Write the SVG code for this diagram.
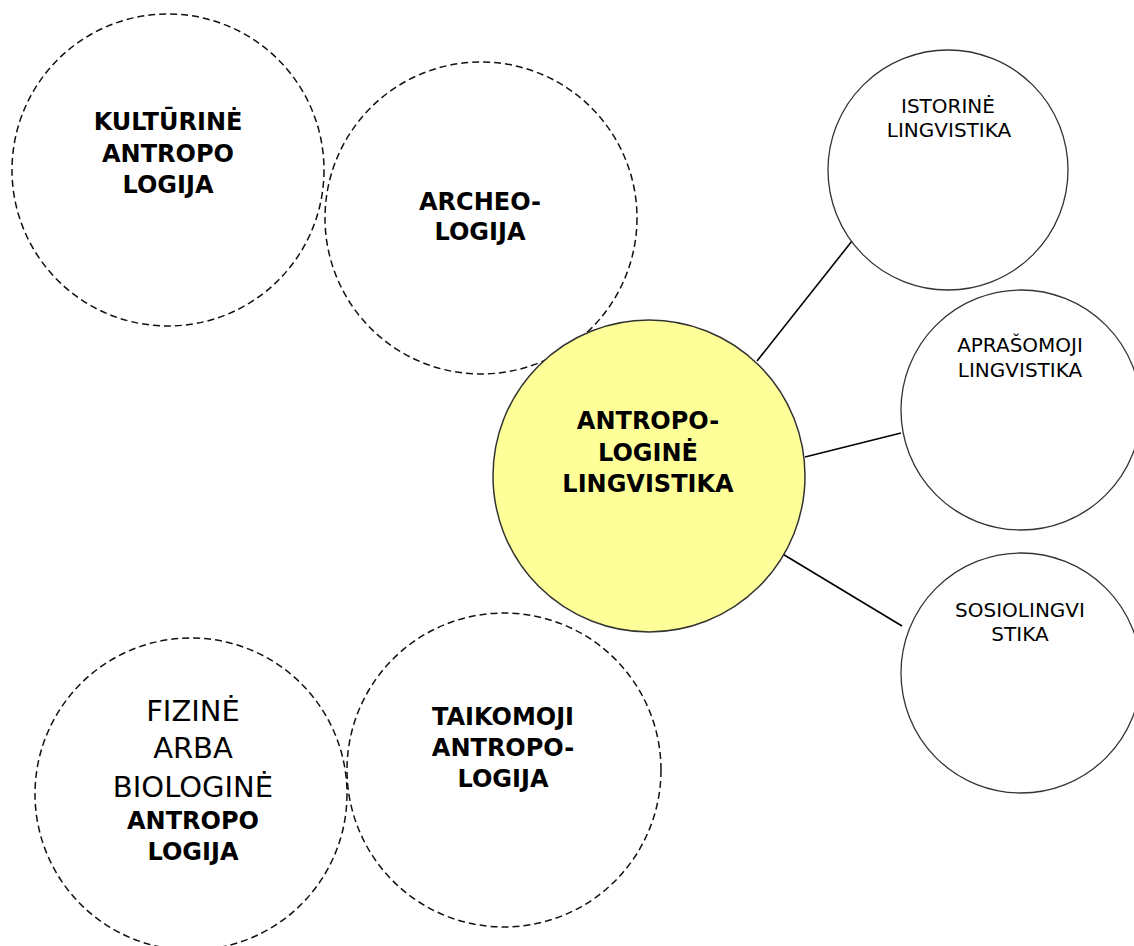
<svg xmlns="http://www.w3.org/2000/svg" width="1134" height="946" viewBox="0 0 1134 946">
<style>
.dash{fill:none;stroke:#111;stroke-width:1.5;stroke-dasharray:7 4}
.solid{fill:#fff;stroke:#333;stroke-width:1.3}
.main{fill:#ffff99;stroke:#333;stroke-width:1.5}
.b{font-family:"DejaVu Sans",sans-serif;font-weight:bold;font-size:24px;text-anchor:middle;fill:#000}
.r{font-family:"DejaVu Sans",sans-serif;font-size:20px;text-anchor:middle;fill:#000}
.rl{font-family:"DejaVu Sans",sans-serif;font-size:29px;text-anchor:middle;fill:#000}
.line{stroke:#000;stroke-width:1.6;fill:none}
</style>
<rect width="1134" height="946" fill="#fff"/>
<g id="connectors">
<line class="line" x1="757" y1="361" x2="852" y2="241"/>
<line class="line" x1="805" y1="457" x2="901" y2="433"/>
<line class="line" x1="781" y1="553" x2="902" y2="626"/>
</g>
<g id="kulturine">
<circle class="dash" cx="168" cy="170" r="156"/>
<text class="b" x="168" y="130">KULTŪRINĖ</text>
<text class="b" x="168" y="162">ANTROPO</text>
<text class="b" x="168" y="193">LOGIJA</text>
</g>
<g id="archeologija">
<circle class="dash" cx="481" cy="218" r="156"/>
<text class="b" x="480" y="210">ARCHEO-</text>
<text class="b" x="480" y="240">LOGIJA</text>
</g>
<g id="fizine">
<circle class="dash" cx="191" cy="794" r="156"/>
<text class="rl" x="193" y="721">FIZINĖ</text>
<text class="rl" x="193" y="758">ARBA</text>
<text class="rl" x="193" y="797">BIOLOGINĖ</text>
<text class="b" x="193" y="829">ANTROPO</text>
<text class="b" x="193" y="860">LOGIJA</text>
</g>
<g id="taikomoji">
<circle class="dash" cx="504" cy="770" r="157"/>
<text class="b" x="503" y="725">TAIKOMOJI</text>
<text class="b" x="503" y="756">ANTROPO-</text>
<text class="b" x="503" y="787">LOGIJA</text>
</g>
<g id="antropologine">
<circle class="main" cx="649" cy="476" r="156"/>
<text class="b" x="648" y="429">ANTROPO-</text>
<text class="b" x="648" y="461">LOGINĖ</text>
<text class="b" x="648" y="492">LINGVISTIKA</text>
</g>
<g id="istorine">
<circle class="solid" cx="948" cy="170" r="120"/>
<text class="r" x="948" y="113">ISTORINĖ</text>
<text class="r" x="949" y="137">LINGVISTIKA</text>
</g>
<g id="aprasomoji">
<circle class="solid" cx="1021" cy="410" r="120"/>
<text class="r" x="1020" y="352">APRAŠOMOJI</text>
<text class="r" x="1020" y="377">LINGVISTIKA</text>
</g>
<g id="sosiolingvistika">
<circle class="solid" cx="1021" cy="673" r="120"/>
<text class="r" x="1020" y="617">SOSIOLINGVI</text>
<text class="r" x="1020" y="641">STIKA</text>
</g>
</svg>
